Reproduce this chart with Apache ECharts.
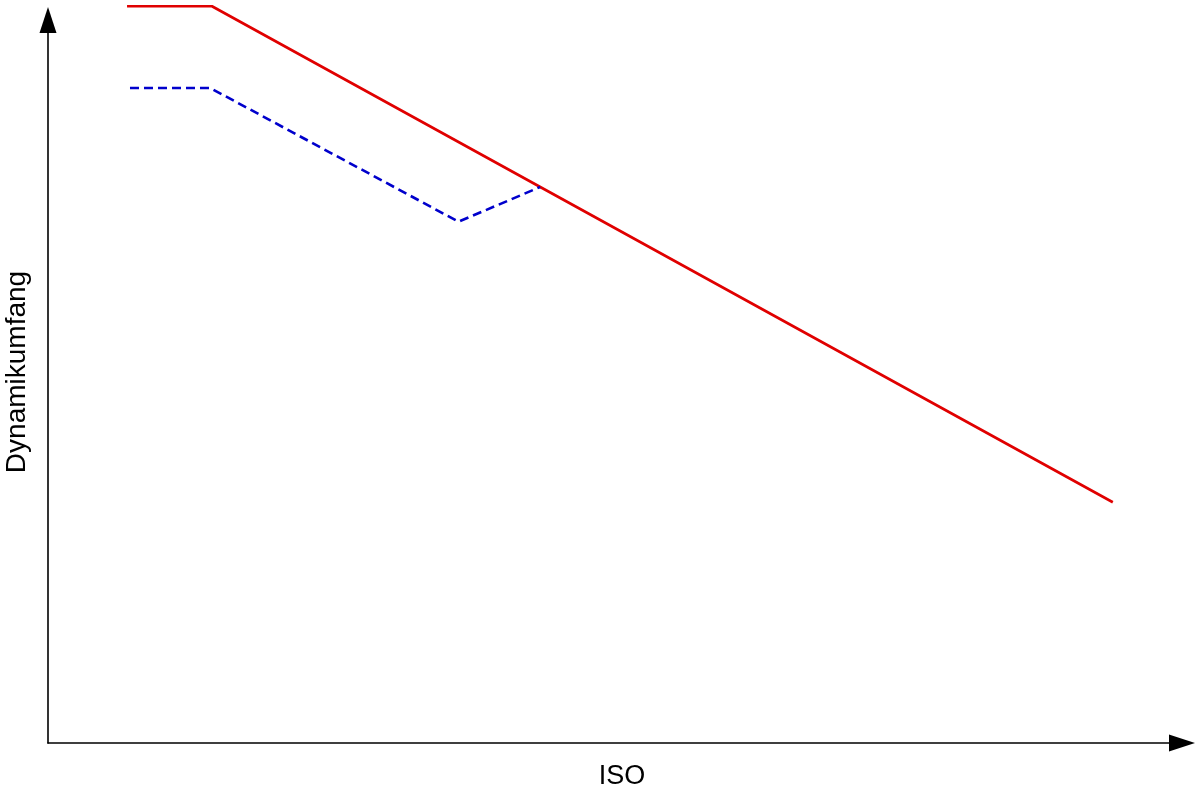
<!DOCTYPE html>
<html>
<head>
<meta charset="utf-8">
<script src="https://cdn.jsdelivr.net/npm/echarts@6/dist/echarts.min.js"></script>
<style>html,body{margin:0;padding:0;background:#fff}#c{width:1200px;height:791px}</style>
</head>
<body>
<div id="c"></div>
<script>
// Data (arbitrary units, axes have no ticks)
const redX = [6.97, 14.46, 93.9];
const redY = [101.9, 101.9, 33.3];
const blueX = [7.23, 14.3, 36.2, 43.4];
const blueY = [90.6, 90.6, 72.1, 76.9];
const xName = 'ISO';
const yName = 'Dynamikumfang';

const pairs = (xs, ys) => xs.map((x, i) => [x, ys[i]]);
const chart = echarts.init(document.getElementById('c'), null, {renderer: 'canvas'});
const axisCommon = {
  type: 'value', min: 0, max: 100,
  axisLine: {show: true, symbol: ['none', 'triangle'], symbolSize: [17, 26], lineStyle: {color: '#000', width: 1.6}},
  axisTick: {show: false}, axisLabel: {show: false}, splitLine: {show: false}
};
chart.setOption({
  animation: false,
  backgroundColor: '#fff',
  grid: {left: 48, right: 18, top: 20, bottom: 48},
  xAxis: Object.assign({}, axisCommon),
  yAxis: Object.assign({}, axisCommon),
  graphic: [
    {type: 'text', x: 622, y: 777, style: {text: xName, align: 'center', verticalAlign: 'middle', font: '27px "Liberation Sans", Arial, sans-serif', fill: '#000'}},
    {type: 'text', x: 17, y: 372, rotation: Math.PI / 2, style: {text: yName, align: 'center', verticalAlign: 'middle', font: '28px "Liberation Sans", Arial, sans-serif', fill: '#000'}}
  ],
  series: [
    {type: 'line', data: pairs(redX, redY), symbol: 'none', clip: false, lineStyle: {color: '#e00000', width: 2.6}},
    {type: 'line', data: pairs(blueX, blueY), symbol: 'none', clip: false, lineStyle: {color: '#0000cc', width: 2.6, type: [9, 5]}}
  ]
});
</script>
</body>
</html>
